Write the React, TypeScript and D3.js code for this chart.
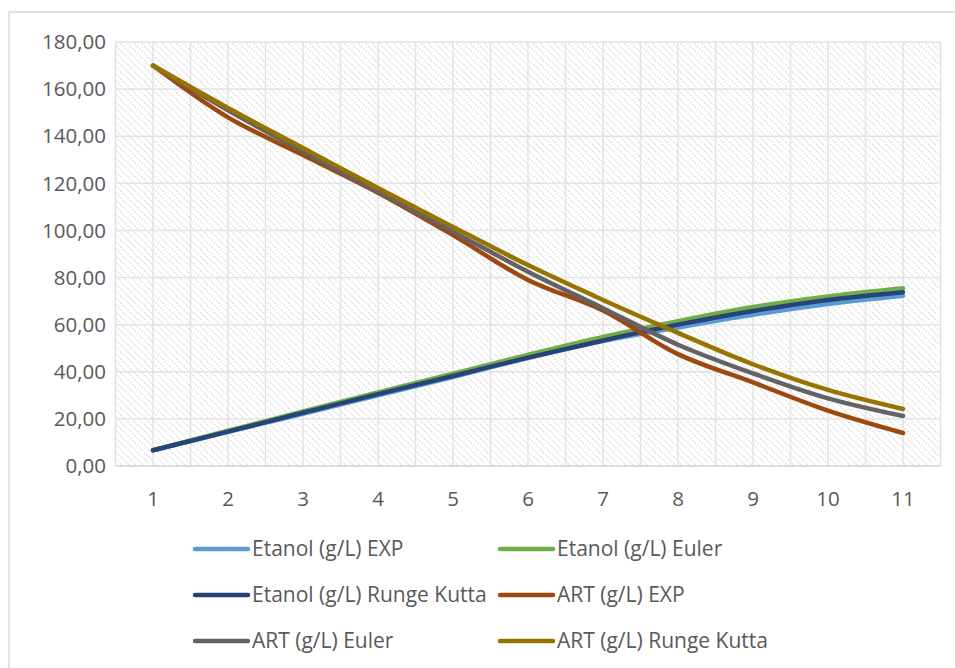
import React from "react";
import * as d3 from "d3";

const categories = [1, 2, 3, 4, 5, 6, 7, 8, 9, 10, 11];
const yTicks = [0, 20, 40, 60, 80, 100, 120, 140, 160, 180];

const etanolExp = [6.7, 14.5, 22.2, 30.0, 37.8, 45.8, 53.0, 58.8, 64.2, 68.8, 72.3];
const etanolEuler = [6.7, 15.0, 23.2, 31.2, 39.2, 47.2, 54.8, 61.5, 67.5, 72.0, 75.5];
const etanolRK = [6.7, 14.6, 22.6, 30.5, 38.2, 46.0, 53.3, 60.0, 65.8, 70.5, 73.8];
const artExp = [170, 148, 132, 116, 98, 79, 66, 47.5, 35.5, 23.5, 14.0];
const artEuler = [170, 151, 133.5, 116.5, 99.5, 82.5, 67, 51.5, 39.3, 28.7, 21.2];
const artRK = [170, 152, 135, 118, 101.5, 85.3, 70.5, 56.5, 43.2, 32.3, 24.2];

const seriesNames = [
  "Etanol (g/L) EXP",
  "Etanol (g/L) Euler",
  "Etanol (g/L) Runge Kutta",
  "ART (g/L) EXP",
  "ART (g/L) Euler",
  "ART (g/L) Runge Kutta",
];
const seriesValues = [etanolExp, etanolEuler, etanolRK, artExp, artEuler, artRK];
const seriesColors = ["#5b9bd5", "#70ad47", "#264478", "#9e480e", "#636363", "#997300"];

const fmt = (v: number) => v.toFixed(2).replace(".", ",");

export default function App() {
  const W = 955;
  const H = 668;
  const left = 115.5;
  const right = 940.5;
  const top = 42;
  const bottom = 466;

  const x = d3
    .scaleBand<number>()
    .domain(categories)
    .range([left, right]);
  const xc = (c: number) => (x(c) as number) + x.bandwidth() / 2;
  const y = d3.scaleLinear().domain([0, 180]).range([bottom, top]);

  const line = d3
    .line<number>()
    .x((_, i) => xc(categories[i]))
    .y((d) => y(d))
    .curve(d3.curveCatmullRom.alpha(0.5));

  const vLines: number[] = [];
  categories.forEach((c) => {
    vLines.push(x(c) as number);
    vLines.push(xc(c));
  });
  vLines.push(right);

  const font = "'Open Sans', 'Noto Sans', sans-serif";
  const legendRows = [549, 595, 641];
  const legendCols = [195, 500];

  return (
    <svg
      width={W}
      height={H}
      style={{ position: "absolute", left: 0, top: 0, background: "#fff" }}
      fontFamily={font}
    >
      <defs>
        <pattern id="hatch" patternUnits="userSpaceOnUse" width={7} height={7}>
          <rect width={7} height={7} fill="#ffffff" />
          <path
            d="M-1,-1 L8,8 M-1,6 L1,8 M6,-1 L8,1"
            stroke="#dcdcdc"
            strokeWidth={1.2}
            strokeDasharray="2,1.4"
          />
        </pattern>
      </defs>
      <rect x={9} y={12} width={960} height={680} fill="#fff" stroke="#d9d9d9" strokeWidth={1.5} />
      <rect x={left} y={top} width={right - left} height={bottom - top} fill="url(#hatch)" />
      {yTicks.map((t) => (
        <line key={"h" + t} x1={left} x2={right} y1={y(t)} y2={y(t)} stroke="#e3e3e3" strokeWidth={1.5} />
      ))}
      {vLines.map((v, i) => (
        <line key={"v" + i} x1={v} x2={v} y1={top} y2={bottom} stroke="#e3e3e3" strokeWidth={1.5} />
      ))}
      <line x1={left} x2={right} y1={bottom} y2={bottom} stroke="#d9d9d9" strokeWidth={1.5} />
      {yTicks.map((t) => (
        <text
          key={"yl" + t}
          x={106}
          y={y(t)}
          dy="0.35em"
          textAnchor="end"
          fontSize={20.5}
          fill="#595959"
        >
          {fmt(t)}
        </text>
      ))}
      {categories.map((c) => (
        <text
          key={"xl" + c}
          x={xc(c)}
          y={499}
          dy="0.35em"
          textAnchor="middle"
          fontSize={20.5}
          fill="#595959"
        >
          {c}
        </text>
      ))}
      {seriesValues.map((vals, i) => (
        <path
          key={"s" + i}
          d={line(vals) as string}
          fill="none"
          stroke={seriesColors[i]}
          strokeWidth={4.5}
          strokeLinecap="round"
          strokeLinejoin="round"
        />
      ))}
      {seriesNames.map((name, i) => {
        const lx = legendCols[i % 2];
        const ly = legendRows[Math.floor(i / 2)];
        return (
          <g key={"lg" + i}>
            <line
              x1={lx}
              x2={lx + 53}
              y1={ly}
              y2={ly}
              stroke={seriesColors[i]}
              strokeWidth={4.5}
              strokeLinecap="round"
            />
            <text x={lx + 57} y={ly} dy="0.35em" fontSize={21} fill="#595959">
              {name}
            </text>
          </g>
        );
      })}
    </svg>
  );
}
